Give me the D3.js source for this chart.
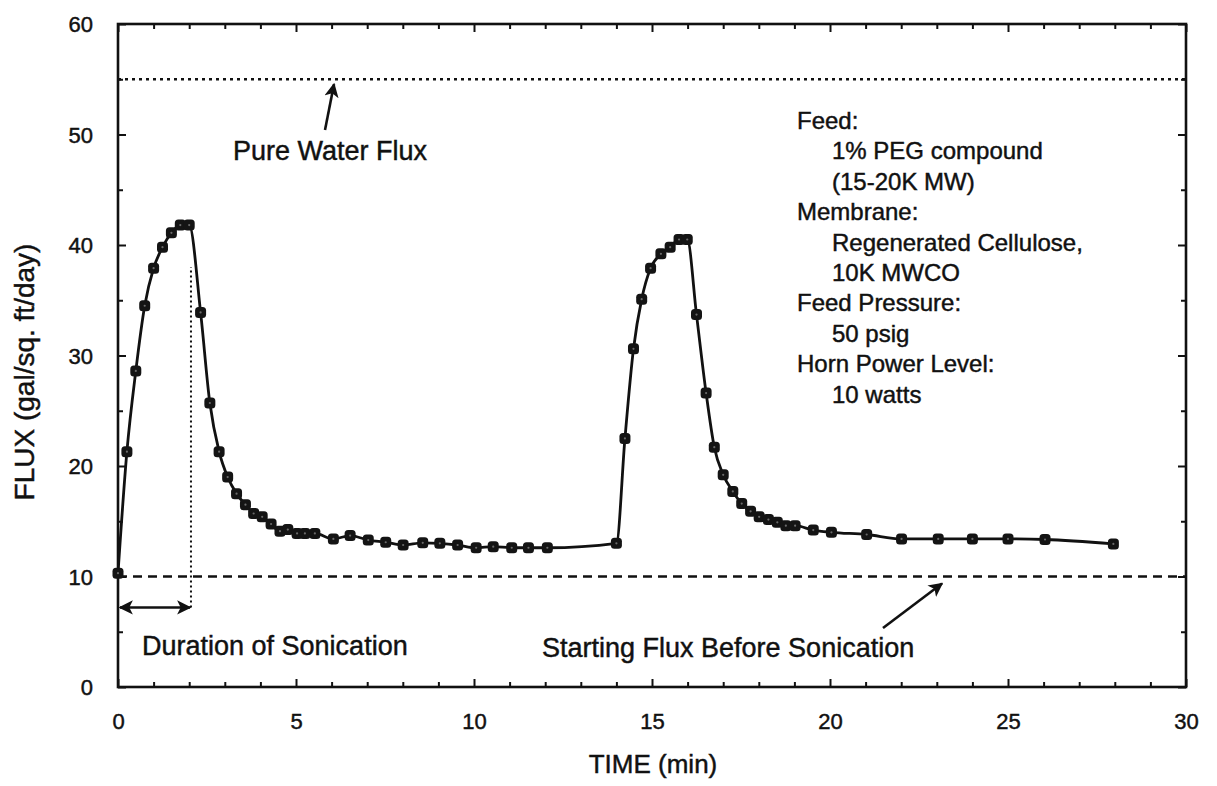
<!DOCTYPE html>
<html>
<head>
<meta charset="utf-8">
<script src="https://cdn.jsdelivr.net/npm/d3@7"></script>
<style>
  body { margin: 0; background: #fff; }
  svg text { font-family: "Liberation Sans", Arial, Helvetica, sans-serif; fill: #111; stroke: #111; stroke-width: 0.45px; }
</style>
</head>
<body>
<script>
// measured flux during two sonication runs
const time = [0, 0.25, 0.5, 0.75, 1.0, 1.25, 1.5, 1.75, 2.0,
  2.32, 2.58, 2.84, 3.08, 3.33, 3.58, 3.81, 4.05, 4.3, 4.55, 4.77, 5.03, 5.25, 5.53,
  6.05, 6.52, 7.03, 7.52, 8.01, 8.56, 9.04, 9.54, 10.06, 10.54, 11.06, 11.53, 12.06,
  14.0, 14.24, 14.48, 14.71, 14.96, 15.25, 15.51, 15.76, 15.99,
  16.25, 16.52, 16.75, 17.0, 17.27, 17.52, 17.77, 18.01, 18.27, 18.52, 18.76, 19.02, 19.53,
  20.04, 21.03, 22.01, 23.04, 24.0, 25.0, 26.04, 27.96];
const flux = [10.3, 21.3, 28.6, 34.5, 37.9, 39.8, 41.1, 41.8, 41.8,
  33.9, 25.7, 21.3, 19.0, 17.5, 16.5, 15.7, 15.4, 14.75, 14.1, 14.25, 13.9, 13.9, 13.9,
  13.4, 13.7, 13.3, 13.1, 12.85, 13.05, 13.0, 12.85, 12.6, 12.7, 12.6, 12.6, 12.6,
  13.0, 22.5, 30.6, 35.1, 37.9, 39.2, 39.8, 40.5, 40.5,
  33.7, 26.6, 21.7, 19.2, 17.7, 16.6, 15.9, 15.4, 15.15, 14.9, 14.6, 14.6, 14.2,
  14.0, 13.8, 13.4, 13.4, 13.4, 13.4, 13.35, 12.95];

const xMajor = [0, 5, 10, 15, 20, 25, 30];
const yMajor = [0, 10, 20, 30, 40, 50, 60];
const pureWaterFlux = 55;
const startingFlux = 10;
const sonicationEnd = 2.05;

const legendLines = [
  { text: "Feed:", indent: false },
  { text: "1% PEG compound", indent: true },
  { text: "(15-20K MW)", indent: true },
  { text: "Membrane:", indent: false },
  { text: "Regenerated Cellulose,", indent: true },
  { text: "10K MWCO", indent: true },
  { text: "Feed Pressure:", indent: false },
  { text: "50 psig", indent: true },
  { text: "Horn Power Level:", indent: false },
  { text: "10 watts", indent: true }
];

const width = 1217, height = 786;
const plotL = 118, plotR = 1186, plotT = 24, plotB = 687;

const x = d3.scaleLinear().domain([0, 30]).range([plotL, plotR]);
const y = d3.scaleLinear().domain([0, 60]).range([plotB, plotT]);

const svg = d3.select("body").append("svg")
  .attr("width", width)
  .attr("height", height);

svg.append("rect").attr("width", width).attr("height", height).attr("fill", "#fff");

const defs = svg.append("defs");
defs.append("marker")
  .attr("id", "head")
  .attr("viewBox", "0 0 10 10")
  .attr("refX", 9).attr("refY", 5)
  .attr("markerWidth", 5.5).attr("markerHeight", 5.5)
  .attr("markerUnits", "strokeWidth")
  .attr("orient", "auto-start-reverse")
  .append("path").attr("d", "M0,0L10,5L0,10L2.5,5Z").attr("fill", "#111");

// axes: minor ticks inward on all four sides
const xMinor = d3.range(0, 31, 1);
const yMinor = d3.range(0, 61, 5);

const gx = svg.append("g").attr("transform", `translate(0,${plotB})`)
  .call(d3.axisBottom(x).tickValues(xMinor).tickSizeOuter(0).tickSize(-5).tickPadding(26)
    .tickFormat(d => xMajor.includes(d) ? d : ""));
gx.selectAll(".tick line").attr("y2", d => xMajor.includes(d) ? -8 : -5);

const gy = svg.append("g").attr("transform", `translate(${plotL},0)`)
  .call(d3.axisLeft(y).tickValues(yMinor).tickSizeOuter(0).tickSize(-5).tickPadding(25)
    .tickFormat(d => yMajor.includes(d) ? d : ""));
gy.selectAll(".tick line").attr("x2", d => yMajor.includes(d) ? 8 : 5);

svg.append("g").attr("transform", `translate(0,${plotT})`)
  .call(d3.axisTop(x).tickValues(xMinor).tickSizeOuter(0).tickSize(-5).tickFormat(""))
  .selectAll(".tick line").attr("y2", d => xMajor.includes(d) ? 8 : 5);

svg.append("g").attr("transform", `translate(${plotR},0)`)
  .call(d3.axisRight(y).tickValues(yMinor).tickSizeOuter(0).tickSize(-5).tickFormat(""))
  .selectAll(".tick line").attr("x2", d => yMajor.includes(d) ? -8 : -5);

svg.selectAll(".domain").remove();
svg.selectAll(".tick line").attr("stroke", "#111").attr("stroke-width", 2);
svg.selectAll(".tick text")
  .style("font-size", "22px")
  .attr("fill", "#111").attr("stroke", "#111").attr("stroke-width", 0.7);
gy.selectAll(".tick text").attr("dy", "0.36em");

svg.append("rect")
  .attr("x", plotL).attr("y", plotT)
  .attr("width", plotR - plotL).attr("height", plotB - plotT)
  .attr("fill", "none").attr("stroke", "#111").attr("stroke-width", 2.6);

// reference lines
svg.append("line")
  .attr("x1", x(0)).attr("x2", x(30))
  .attr("y1", y(pureWaterFlux)).attr("y2", y(pureWaterFlux))
  .attr("stroke", "#111").attr("stroke-width", 2.6).attr("stroke-dasharray", "3,4");

svg.append("line")
  .attr("x1", x(0)).attr("x2", x(30))
  .attr("y1", y(startingFlux)).attr("y2", y(startingFlux))
  .attr("stroke", "#111").attr("stroke-width", 2.6).attr("stroke-dasharray", "9,6");

svg.append("line")
  .attr("x1", x(sonicationEnd)).attr("x2", x(sonicationEnd))
  .attr("y1", y(7.2)).attr("y2", y(38))
  .attr("stroke", "#111").attr("stroke-width", 2).attr("stroke-dasharray", "2,3");

// data curve + markers
const pts = time.map((t, i) => [t, flux[i]]);
const line = d3.line().x(d => x(d[0])).y(d => y(d[1])).curve(d3.curveMonotoneX);

svg.append("path")
  .attr("d", line(pts))
  .attr("fill", "none").attr("stroke", "#111").attr("stroke-width", 2.8);

const mk = svg.append("g").selectAll("g").data(pts).join("g")
  .attr("transform", d => `translate(${x(d[0])},${y(d[1])})`);
mk.append("rect")
  .attr("x", -5.5).attr("y", -5.5).attr("width", 11).attr("height", 11).attr("rx", 3.5)
  .attr("fill", "#141414");
mk.append("circle").attr("r", 1.1).attr("fill", "#6a6a6a");

// annotations
const ann = svg.append("g").attr("stroke", "#111").attr("stroke-width", 2.6).attr("fill", "none");
ann.append("line")
  .attr("x1", 325).attr("y1", 130).attr("x2", 334).attr("y2", y(pureWaterFlux) + 5)
  .attr("marker-end", "url(#head)");
ann.append("line")
  .attr("x1", x(0) + 2).attr("y1", y(7.2)).attr("x2", x(sonicationEnd) - 1).attr("y2", y(7.2))
  .attr("marker-start", "url(#head)").attr("marker-end", "url(#head)");
ann.append("line")
  .attr("x1", 883).attr("y1", 628).attr("x2", 942).attr("y2", y(startingFlux) + 7)
  .attr("marker-end", "url(#head)");

svg.append("text").attr("x", 233).attr("y", 160).style("font-size", "27px")
  .text("Pure Water Flux");
svg.append("text").attr("x", 142).attr("y", 655).style("font-size", "27px")
  .text("Duration of Sonication");
svg.append("text").attr("x", 542).attr("y", 657).style("font-size", "27px")
  .text("Starting Flux Before Sonication");

svg.append("g").selectAll("text").data(legendLines).join("text")
  .attr("x", d => d.indent ? 832 : 797)
  .attr("y", (d, i) => 129 + i * 30.4)
  .style("font-size", "24px")
  .text(d => d.text);

// axis titles
svg.append("text")
  .attr("x", 653).attr("y", 773)
  .attr("text-anchor", "middle")
  .style("font-size", "26px")
  .text("TIME (min)");

svg.append("text")
  .attr("transform", "translate(34,372) rotate(-90)")
  .attr("text-anchor", "middle")
  .style("font-size", "28px")
  .text("FLUX (gal/sq. ft/day)");
</script>
</body>
</html>
